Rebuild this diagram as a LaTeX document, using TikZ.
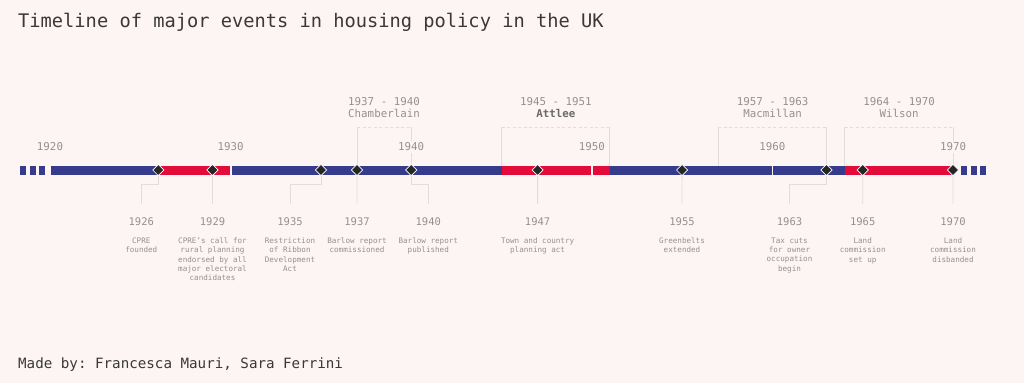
\documentclass[tikz,border=0pt]{standalone}
\usepackage{fontspec}
\setmainfont{DejaVu Sans Mono}
\frenchspacing
\usetikzlibrary{shapes.geometric,positioning}

\definecolor{paper}{HTML}{FCF5F3}
\definecolor{navy}{HTML}{363B8C}
\definecolor{crimson}{HTML}{E20B39}
\definecolor{ink}{HTML}{3A3838}
\definecolor{mute}{HTML}{959090}
\definecolor{hair}{HTML}{E3DCDA}
\definecolor{gem}{HTML}{252525}

\tikzset{
  event/.style={diamond,fill=gem,draw=white,line width=0.7pt,
    inner sep=0pt,minimum width=11.5pt,minimum height=11.5pt},
  decade/.style={font=\fontsize{10.8}{13}\selectfont,text=mute,fill=paper,inner sep=2pt},
  pm/.style={font=\fontsize{10.8}{12.7}\selectfont,text=mute,align=center,inner sep=0pt},
  yearlbl/.style={font=\fontsize{10.5}{12}\selectfont,text=mute,inner sep=0pt},
  note/.style={font=\fontsize{7.6}{9.2}\selectfont,text=mute,align=center,inner sep=0pt},
  leader/.style={draw=hair,line width=0.8pt},
  termtop/.style={leader,dash pattern=on 3pt off 2.5pt}
}

\begin{document}
\begin{tikzpicture}[x=1pt,y=-1pt]
  % Page
  \fill[paper] (0,0) rectangle (1024,383);
  \useasboundingbox (0,0) rectangle (1024,383);
  \node[anchor=west,inner sep=0pt,text=ink,font=\fontsize{18.7}{22}\selectfont]
    (title) at (18,22) {Timeline of major events in housing policy in the UK};
  \node[anchor=west,inner sep=0pt,text=ink,font=\fontsize{14.2}{17}\selectfont]
    (credit) at (18,365) {Made by: Francesca Mauri, Sara Ferrini};

  % one point per year on the axis
  \foreach \yr in {1920,...,1970}
    \coordinate (t\yr) at ({50+18.06*(\yr-1920)},170);

  % Bar
  \fill[navy] (t1920 |- 0,165.5) rectangle (t1970 |- 0,174.5);
  \fill[crimson] (t1926 |- 0,165.5) rectangle (t1930 |- 0,174.5);
  \fill[crimson] (t1945 |- 0,165.5) rectangle (t1951 |- 0,174.5);
  \fill[crimson] (t1964 |- 0,165.5) rectangle (t1970 |- 0,174.5);
  \foreach \x in {20,29.5,39,960.5,970.5,980}
    \fill[navy] (\x,165.5) rectangle ++(6.3,9);
  \foreach \d in {1920,1930,1950,1960}
    \draw[paper,line width=1.8pt] (t\d |- 0,164.5) -- (t\d |- 0,175.5);

  % Prime ministers
  \node[pm] (chamberlain) at (384,107.5) {1937 - 1940\\Chamberlain};
  \node[pm] (attlee) at (555.8,107.5) {1945 - 1951\\\textcolor{ink!75}{\textbf{Attlee}}};
  \node[pm] (macmillan) at (772.5,107.5) {1957 - 1963\\Macmillan};
  \node[pm] (wilson) at (899,107.5) {1964 - 1970\\Wilson};
  \foreach \a/\b in {1937/1940,1945/1951,1957/1963,1964/1970} {
    \draw[leader] (t\a |- 0,165.5) -- (t\a |- 0,127);
    \draw[termtop] (t\a |- 0,127) -- (t\b |- 0,127);
    \draw[leader] (t\b |- 0,127) -- (t\b |- 0,165.5);
  }

  % Decades
  \foreach \d in {1920,1930,...,1970}
    \node[decade] (d\d) at (t\d |- 0,147) {\d};

  % Events
  \foreach \yr in {1926,1929,1935,1937,1940,1947,1955,1963,1965,1970}
    \node[event] (e\yr) at (t\yr) {};
  \foreach \yr/\x in {1926/141.3,1929/212.5,1935/290,1937/357,1940/428.3,
                      1947/537.6,1955/682,1963/789.5,1965/862.7,1970/953}
    \node[yearlbl] (y\yr) at (\x,222) {\yr};

  \node[note,below=11.5pt of y1926] (n1926) {CPRE\\founded};
  \node[note,below=11.5pt of y1929] (n1929) {CPRE's call for\\rural planning\\endorsed by all\\major electoral\\candidates};
  \node[note,below=11.5pt of y1935] (n1935) {Restriction\\of Ribbon\\Development\\Act};
  \node[note,below=11.5pt of y1937] (n1937) {Barlow report\\commissioned};
  \node[note,below=11.5pt of y1940] (n1940) {Barlow report\\published};
  \node[note,below=11.5pt of y1947] (n1947) {Town and country\\planning act};
  \node[note,below=11.5pt of y1955] (n1955) {Greenbelts\\extended};
  \node[note,below=11.5pt of y1963] (n1963) {Tax cuts\\for owner\\occupation\\begin};
  \node[note,below=11.5pt of y1965] (n1965) {Land\\commission\\set up};
  \node[note,below=11.5pt of y1970] (n1970) {Land\\commission\\disbanded};

  % Leaders
  \foreach \yr in {1929,1937,1947,1955,1965,1970}
    \draw[leader,shorten >=14pt] (e\yr.south) -- (y\yr.north);
  \foreach \yr in {1926,1935,1940,1963}
    \draw[leader,shorten >=14pt] (e\yr.south) -- (e\yr |- 0,184) -| (y\yr.north);
\end{tikzpicture}
\end{document}
